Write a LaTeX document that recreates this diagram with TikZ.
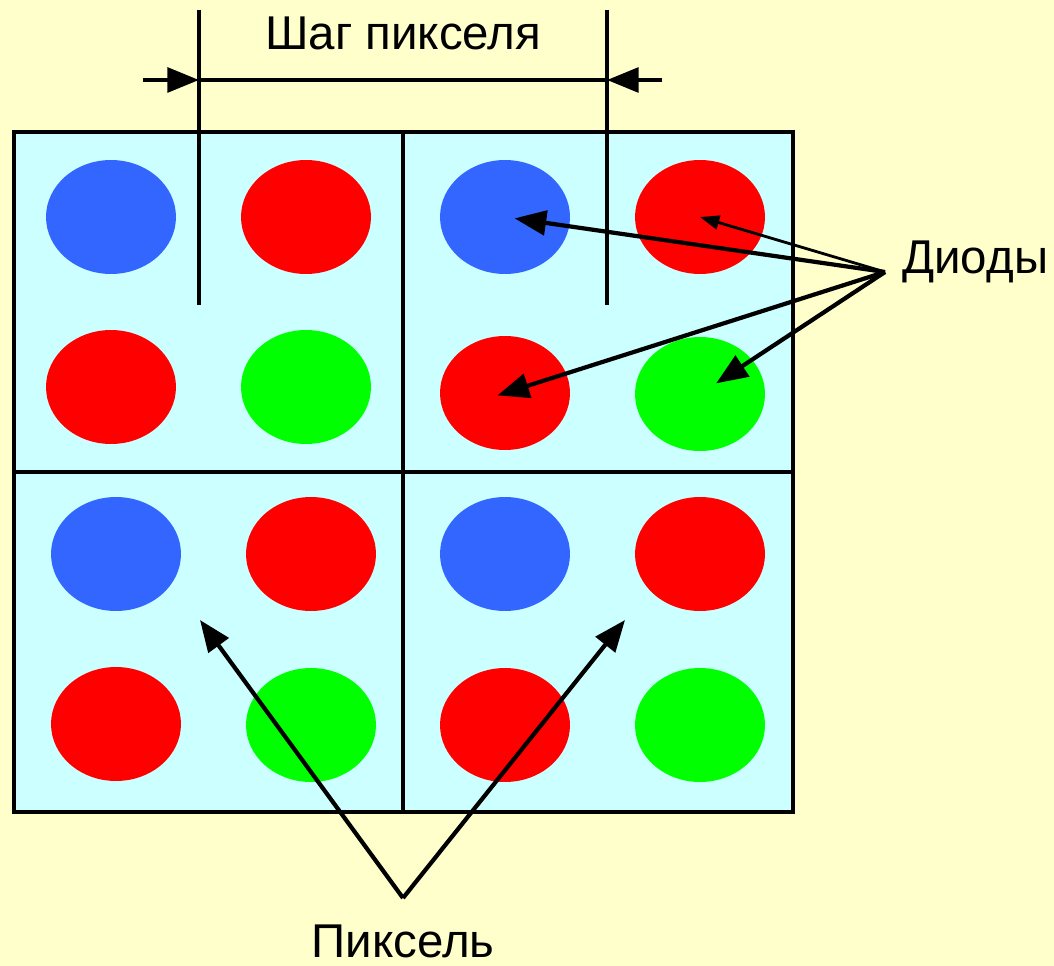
\documentclass[tikz,border=0pt]{standalone}
\usepackage{fontspec}
\setmainfont{Liberation Sans}
\usetikzlibrary{shapes.geometric,arrows.meta}

\definecolor{bgyellow}{HTML}{FFFFCC}
\definecolor{cellcyan}{HTML}{CCFFFF}
\definecolor{dblue}{HTML}{3366FF}
\definecolor{dred}{HTML}{FF0000}
\definecolor{dgreen}{HTML}{00FF00}

\tikzset{
  diode/.style={ellipse, draw=none, inner sep=0pt, minimum width=2.6cm, minimum height=2.28cm},
  label text/.style={font=\fontsize{27}{32}\selectfont, inner sep=0pt},
  big arrow/.style={line width=2.4pt, -{Triangle[length=18pt,width=14pt]}},
  small arrow/.style={line width=1.6pt, -{Triangle[length=11pt,width=8pt]}}
}

\begin{document}
\begin{tikzpicture}[x=0.02cm, y=-0.02cm]
      % Draw the background
      \fill[bgyellow] (0, 0) rectangle (1054, 966);
      \useasboundingbox (0, 0) rectangle (1054, 966);
      % Draw the box
      \fill[cellcyan] (14, 132) rectangle (793, 812);
      % Draw the diodes
      \node[diode, fill=dblue] (b11) at (111, 217) {};
      \node[diode, fill=dred] (r11) at (306, 217) {};
      \node[diode, fill=dred] (q11) at (111, 387) {};
      \node[diode, fill=dgreen] (g11) at (306, 387) {};
      \node[diode, fill=dblue] (b12) at (505, 217) {};
      \node[diode, fill=dred] (r12) at (700, 217) {};
      \node[diode, fill=dred] (q12) at (505, 393) {};
      \node[diode, fill=dgreen] (g12) at (700, 394) {};
      \node[diode, fill=dblue] (b21) at (116, 554) {};
      \node[diode, fill=dred] (r21) at (311, 554) {};
      \node[diode, fill=dred] (q21) at (116, 724) {};
      \node[diode, fill=dgreen] (g21) at (311, 725) {};
      \node[diode, fill=dblue] (b22) at (505, 554) {};
      \node[diode, fill=dred] (r22) at (700, 554) {};
      \node[diode, fill=dred] (q22) at (505, 725) {};
      \node[diode, fill=dgreen] (g22) at (700, 725) {};
      % Draw the grid
      \draw[line width=2.4pt] (14, 132) rectangle (793, 812);
      \draw[line width=2.4pt] (403, 132) -- (403, 812);
      \draw[line width=2.4pt] (14, 472) -- (793, 472);
      % Draw the pitch
      \coordinate (p1top) at (199, 10);
      \coordinate (p1bot) at (199, 305);
      \coordinate (p2top) at (607, 10);
      \coordinate (p2bot) at (607, 305);
      \coordinate (p1) at (199, 80);
      \coordinate (p2) at (607, 80);
      \coordinate (p1out) at (143, 80);
      \coordinate (p2out) at (662, 80);
      \draw[line width=2.3pt] (p1top) -- (p1bot);
      \draw[line width=2.3pt] (p2top) -- (p2bot);
      \draw[line width=2.3pt] (p1) -- (p2);
      \draw[big arrow] (p1out) -- (p1);
      \draw[big arrow] (p2out) -- (p2);
      \node[label text] (pitch) at (403, 33) {Шаг пикселя};
      % Draw the labels
      \node[label text, anchor=west] (diodes) at (902, 262) {Диоды};
      \coordinate (dsrc) at (885, 272);
      \draw[big arrow, shorten >=5.5pt] (dsrc) -- (b12.center);
      \draw[small arrow] (dsrc) -- (r12.center);
      \draw[big arrow, shorten >=-4.5pt] (dsrc) -- (q12.center);
      \draw[big arrow, shorten >=11pt] (dsrc) -- (g12.center);
      \node[label text] (pixel) at (403, 941) {Пиксель};
      \coordinate (psrc) at (403, 898);
      \coordinate (pix1) at (200, 620);
      \coordinate (pix2) at (625, 620);
      \draw[big arrow] (psrc) -- (pix1);
      \draw[big arrow] (psrc) -- (pix2);
    \end{tikzpicture}
\end{document}
